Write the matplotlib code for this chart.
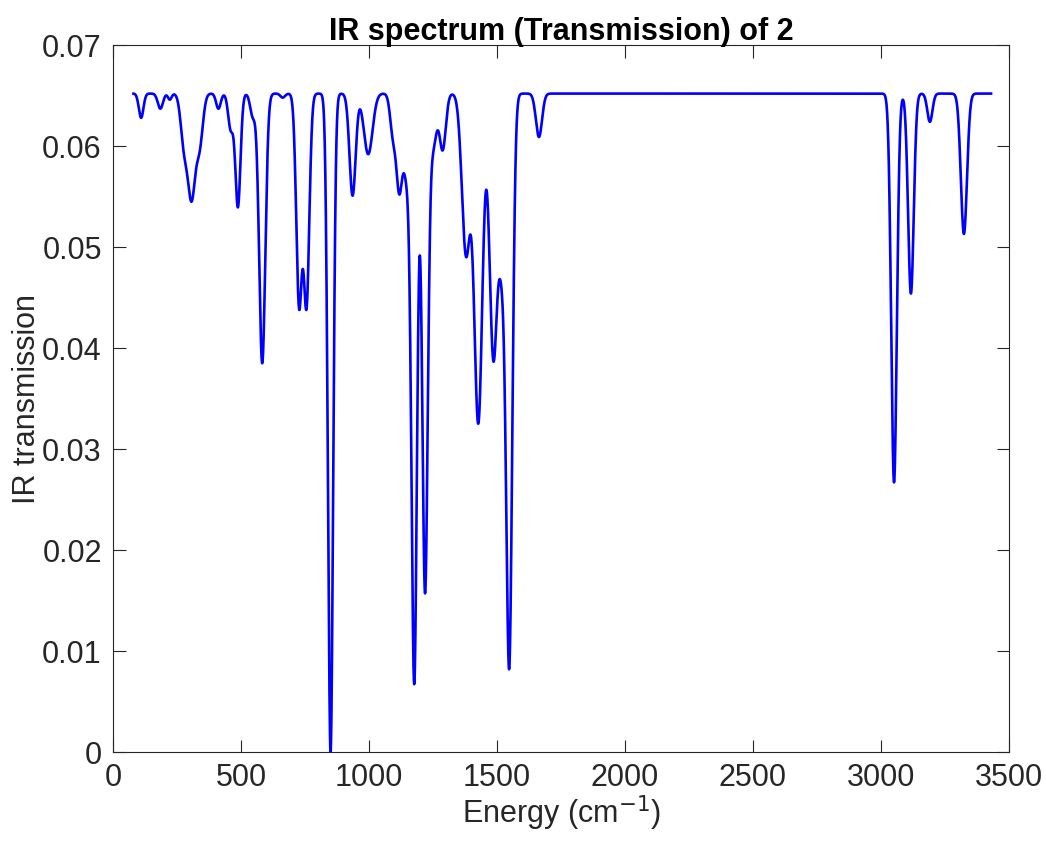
import numpy as np
import matplotlib
matplotlib.use("Agg")
import matplotlib.pyplot as plt

plt.rcParams['font.family'] = ['Liberation Sans', 'DejaVu Sans']

# peak list (cm-1, depth in transmission units, gaussian sigma)
centers = [110, 185, 222, 278, 307, 338, 412, 460, 488, 546, 583, 663,
           727, 756, 850, 936, 997, 1094, 1118, 1148, 1177, 1219, 1250, 1288,
           1379, 1427, 1486, 1520, 1548, 1664, 3051, 3117, 3191, 3324]
depths = [0.0024, 0.0015, 0.0006, 0.0050, 0.0100, 0.0050, 0.0015, 0.0035, 0.0112, 0.0022, 0.0267, 0.0004,
          0.0207, 0.0207, 0.0652, 0.0101, 0.0060, 0.0040, 0.0088, 0.0080, 0.0575, 0.0490, 0.0052, 0.0055,
          0.0158, 0.0325, 0.0260, 0.0145, 0.0555, 0.0043, 0.0385, 0.0198, 0.0028, 0.0139]
widths = [9, 10, 7, 13, 14, 13, 9, 10, 10, 10, 12, 9,
          11, 11, 10, 12, 17, 11, 11, 14, 10.8, 10.8, 14, 12,
          16, 16, 15, 13, 12, 12, 11, 11, 10, 12]
baseline = 0.0652
e_start, e_end = 80, 3430

energy = np.linspace(e_start, e_end, 6000)
absorb = np.zeros_like(energy)
for c, d, s in zip(centers, depths, widths):
    absorb += d * np.exp(-(energy - c)**2 / (2 * s**2))
trans = baseline - absorb

fig = plt.figure(figsize=(10.46, 8.46), dpi=100)
ax = fig.add_axes([0.108, 0.111, 0.8566, 0.8357])
ax.plot(energy, trans, color=(0, 0, 1), lw=1.9)

ax.set_xlim(0, 3500)
ax.set_ylim(0, 0.07)
ax.set_xticks(np.arange(0, 3501, 500))
ax.set_yticks(np.arange(0, 0.0701, 0.01))
ax.set_yticklabels(['0', '0.01', '0.02', '0.03', '0.04', '0.05', '0.06', '0.07'])
ax.tick_params(direction='in', top=True, right=True, length=9, width=0.8,
               colors='#262626', labelsize=22, pad=8)
for sp in ax.spines.values():
    sp.set_color('#262626')
    sp.set_linewidth(0.8)

ax.set_xlabel('Energy (cm$^{-1}$)', fontsize=22, color='#262626', labelpad=0)
ax.set_ylabel('IR transmission', fontsize=22, color='#262626', labelpad=0)
ax.set_title('IR spectrum (Transmission) of 2', fontsize=22, fontweight='bold', pad=4)

fig.savefig('out.png', dpi=100)
